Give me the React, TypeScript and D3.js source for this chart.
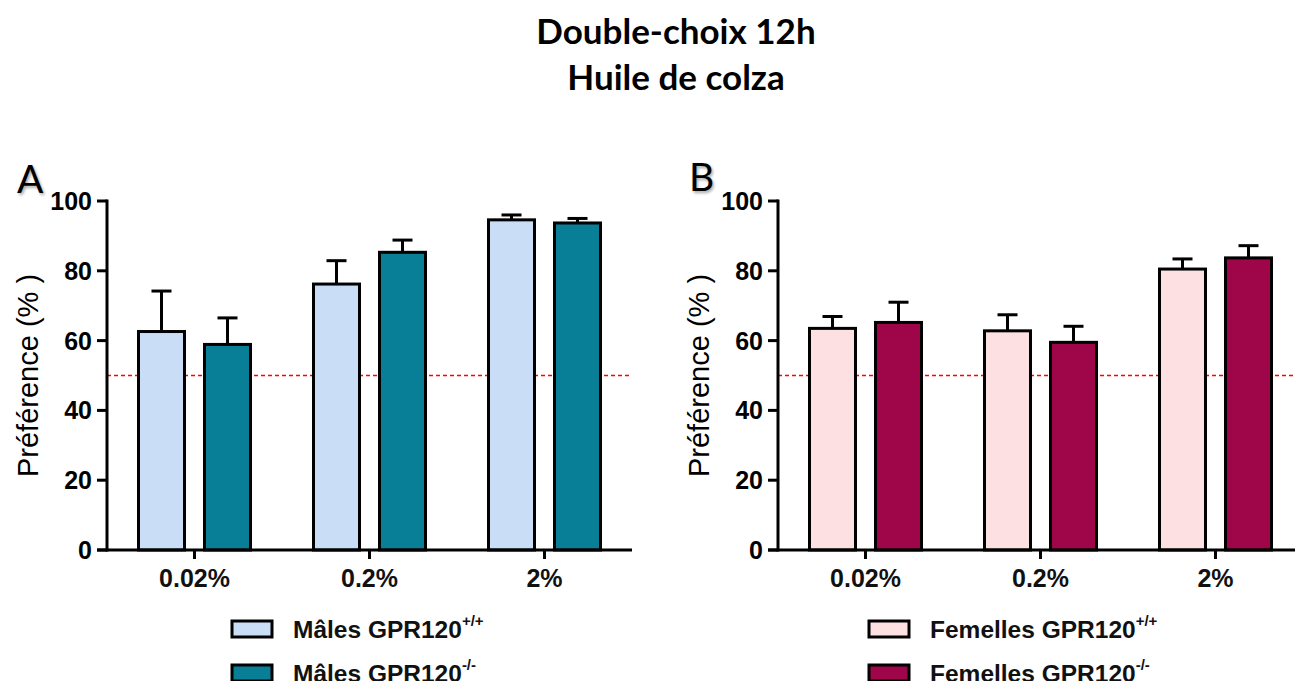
import React from "react";
import * as d3 from "d3";

const categories = ["0.02%", "0.2%", "2%"];
const yTicks = [0, 20, 40, 60, 80, 100];

const malesWT = [62.6, 76.2, 94.6];
const malesWTerr = [11.6, 6.7, 1.4];
const malesKO = [58.9, 85.3, 93.7];
const malesKOerr = [7.6, 3.5, 1.3];

const femalesWT = [63.5, 62.8, 80.5];
const femalesWTerr = [3.4, 4.6, 2.9];
const femalesKO = [65.2, 59.5, 83.7];
const femalesKOerr = [5.8, 4.6, 3.5];

const chanceLevel = 50;

const panels = [
  {
    letter: "A",
    letterX: 17,
    letterY: 193,
    axisX: 107,
    axisEnd: 632,
    colors: ["#c9ddf6", "#087e97"],
    series: [
      { values: malesWT, errors: malesWTerr, label: "Mâles GPR120", sup: "+/+" },
      { values: malesKO, errors: malesKOerr, label: "Mâles GPR120", sup: "-/-" },
    ],
    legendX: 232,
  },
  {
    letter: "B",
    letterX: 689,
    letterY: 191,
    axisX: 778,
    axisEnd: 1303,
    colors: ["#fde0e1", "#9f0649"],
    series: [
      { values: femalesWT, errors: femalesWTerr, label: "Femelles GPR120", sup: "+/+" },
      { values: femalesKO, errors: femalesKOerr, label: "Femelles GPR120", sup: "-/-" },
    ],
    legendX: 869,
  },
];

const FONT = "'Liberation Sans', Arial, sans-serif";

function Panel({ p }: { p: (typeof panels)[number] }) {
  const y = d3.scaleLinear().domain([0, 100]).range([550, 201]);
  const x0 = d3.scaleBand<string>().domain(categories).range([p.axisX, p.axisEnd]).padding(0);
  const keys = ["wt", "ko"];
  const x1 = d3
    .scaleBand<string>()
    .domain(keys)
    .range([31.5, 143.5])
    .paddingInner(20 / 66)
    .paddingOuter(0);
  const bw = x1.bandwidth();
  const capW = 20;
  const y0 = y(0);
  return (
    <g>
      <text
        x={p.letterX + 1.5}
        y={p.letterY + 1.5}
        fontFamily="Lato, sans-serif"
        fontSize={39}
        fill="#000"
        opacity={0.35}
        filter="url(#blur)"
      >
        {p.letter}
      </text>
      <text x={p.letterX} y={p.letterY} fontFamily="Lato, sans-serif" fontSize={39} fill="#000">
        {p.letter}
      </text>

      {/* chance line */}
      <line
        x1={p.axisX}
        x2={Math.min(p.axisEnd, 1295)}
        y1={y(chanceLevel)}
        y2={y(chanceLevel)}
        stroke="#ff0000"
        strokeWidth={1.4}
        strokeDasharray="4 3"
      />

      {/* bars */}
      {p.series.map((s, si) =>
        categories.map((c, ci) => {
          const bx = (x0(c) as number) + (x1(keys[si]) as number);
          const v = s.values[ci];
          const top = y(v);
          const errTop = y(v + s.errors[ci]);
          const cx = bx + bw / 2;
          return (
            <g key={`${si}-${ci}`}>
              <line x1={cx} x2={cx} y1={top} y2={errTop} stroke="#000" strokeWidth={3} />
              <line
                x1={cx - capW / 2}
                x2={cx + capW / 2}
                y1={errTop}
                y2={errTop}
                stroke="#000"
                strokeWidth={3}
              />
              <rect
                x={bx}
                y={top}
                width={bw}
                height={y0 - top}
                fill={p.colors[si]}
                stroke="#000"
                strokeWidth={3}
              />
            </g>
          );
        })
      )}

      {/* y axis */}
      <line x1={p.axisX} x2={p.axisX} y1={y(100) - 1.5} y2={y0 + 1.5} stroke="#000" strokeWidth={3} />
      {yTicks.map((t) => (
        <g key={t}>
          <line x1={p.axisX - 10} x2={p.axisX} y1={y(t)} y2={y(t)} stroke="#000" strokeWidth={3} />
          <text
            x={p.axisX - 15}
            y={y(t)}
            dy="0.36em"
            textAnchor="end"
            fontFamily={FONT}
            fontWeight="bold"
            fontSize={25}
            fill="#000"
          >
            {t}
          </text>
        </g>
      ))}
      <text
        transform={`translate(${p.axisX - 79},${y(50)}) rotate(-90)`}
        textAnchor="middle"
        dy="0.36em"
        fontFamily={FONT}
        fontSize={29}
        fill="#000"
      >
        Préférence (% )
      </text>

      {/* x axis */}
      <line x1={p.axisX - 10} x2={p.axisEnd} y1={y0} y2={y0} stroke="#000" strokeWidth={3} />
      {categories.map((c) => {
        const cx = (x0(c) as number) + x0.bandwidth() / 2;
        return (
          <g key={c}>
            <line x1={cx} x2={cx} y1={y0} y2={y0 + 9} stroke="#000" strokeWidth={3} />
            <text
              x={cx}
              y={587}
              textAnchor="middle"
              fontFamily={FONT}
              fontWeight="bold"
              fontSize={25}
              fill="#111"
            >
              {c}
            </text>
          </g>
        );
      })}

      {/* legend */}
      {p.series.map((s, si) => {
        const ly = 621 + si * 44;
        return (
          <g key={si}>
            <rect x={p.legendX} y={ly} width={40} height={16} fill={p.colors[si]} stroke="#000" strokeWidth={3} />
            <text x={p.legendX + 61} y={ly + 17} fontFamily={FONT} fontWeight="bold" fontSize={24.5} fill="#111">
              {s.label}
              <tspan dy={-12} fontSize={15}>
                {s.sup}
              </tspan>
            </text>
          </g>
        );
      })}
    </g>
  );
}

export default function App() {
  return (
    <svg
      width={1295}
      height={681}
      style={{ position: "absolute", left: 0, top: 0, background: "#fff" }}
    >
      <defs>
        <filter id="blur" x="-20%" y="-20%" width="140%" height="140%">
          <feGaussianBlur stdDeviation={1.5} />
        </filter>
      </defs>
      <rect width={1295} height={681} fill="#fff" />
      <text x={676} y={44} textAnchor="middle" fontFamily="Lato, sans-serif" fontWeight="bold" fontSize={35}>
        Double-choix 12h
      </text>
      <text x={676} y={90} textAnchor="middle" fontFamily="Lato, sans-serif" fontWeight="bold" fontSize={35}>
        Huile de colza
      </text>
      {panels.map((p) => (
        <Panel key={p.letter} p={p} />
      ))}
    </svg>
  );
}
